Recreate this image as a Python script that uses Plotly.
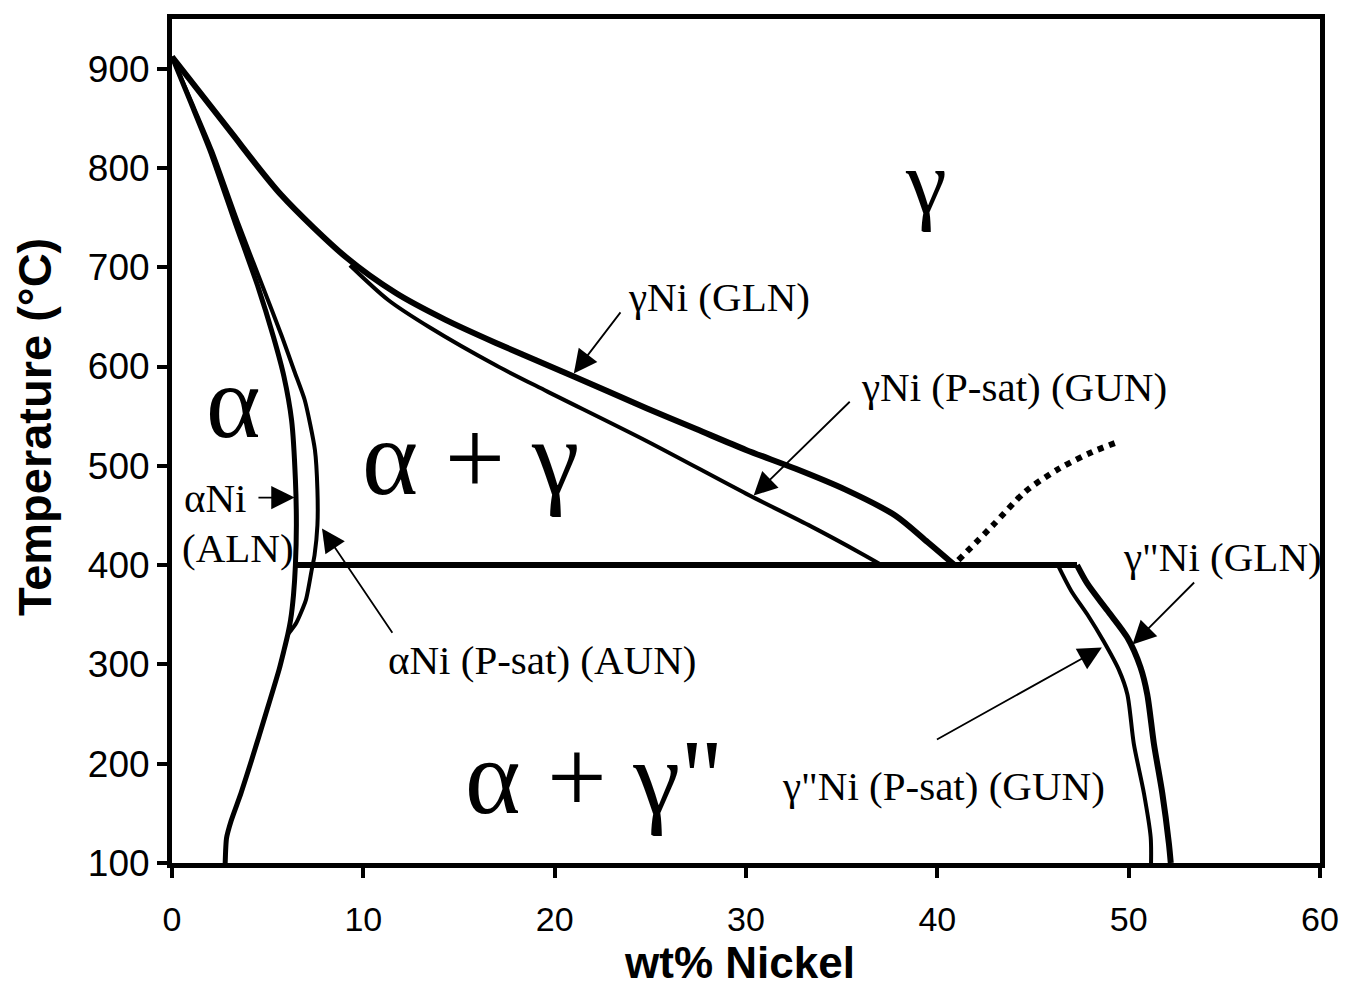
import plotly.graph_objects as go

# Phase boundaries of the Fe-Ni diagram (wt% Ni, temperature in °C)
gln_x = [0, 3.0, 5.7, 9.1, 11.7, 14.3, 16.9, 21.0, 24.8, 27.4, 30.0, 32.6, 35.2, 37.8, 39.5, 40.9]
gln_t = [912, 838, 773, 710, 674, 647, 624, 590, 558, 537, 516, 497, 476, 450, 423, 400]

gun_x = [9.3, 11.3, 13.5, 16.95, 19.6, 24.8, 30.0, 33.4, 36.0, 37.1]
gun_t = [702, 667, 639, 601, 575, 525, 472, 439, 412, 400]

aln_x = [0, 1.0, 2.0, 3.3, 4.5, 5.3, 5.85, 6.25, 6.45, 6.5, 6.45, 6.35, 6.2, 6.05, 5.85, 5.6,
         4.9, 4.15, 3.6, 3.1, 2.85, 2.78]
aln_t = [912, 865, 817, 745, 680, 630, 590, 546, 486, 440, 400, 370, 345, 330, 314, 295,
         250, 203, 170, 143, 125, 100]

aun_x = [0, 1.05, 2.1, 3.45, 4.75, 5.75, 6.4, 6.94, 7.47, 7.6, 7.6, 7.45, 7.3, 7.0, 6.5, 6.05]
aun_t = [912, 865, 817, 745, 680, 630, 595, 566, 516, 476, 440, 410, 395, 365, 342, 330]

eutectoid_x = [6.45, 47.3]
eutectoid_t = [400, 400]

gln2_x = [47.3, 47.85, 48.9, 49.93, 50.62, 50.97, 51.32, 51.76, 52.1, 52.2]
gln2_t = [400, 381, 354, 327, 297, 270, 220, 170, 120, 100]

gun2_x = [46.3, 47.0, 47.85, 48.7, 49.5, 49.93, 50.27, 50.8, 51.15, 51.17]
gun2_t = [400, 374, 350, 323, 294, 270, 220, 170, 126, 100]

dotted_x = [41.1, 42.9, 44.6, 46.35, 48.1, 49.3]
dotted_t = [405, 440, 474, 497, 514, 523]

x_ticks = [0, 10, 20, 30, 40, 50, 60]
y_ticks = [100, 200, 300, 400, 500, 600, 700, 800, 900]

THICK = 6
THIN = 4
SERIF = "Liberation Serif, Times New Roman, serif"
SANS = "Liberation Sans, Arial, sans-serif"

fig = go.Figure()

def boundary(x, t, width, shape="spline", dash="solid", smoothing=0.8):
    fig.add_trace(go.Scatter(
        x=x, y=t, mode="lines",
        line=dict(color="black", width=width, shape=shape, smoothing=smoothing, dash=dash),
        hoverinfo="skip", showlegend=False, cliponaxis=False,
    ))

boundary(gln_x, gln_t, THICK)
boundary(gun_x, gun_t, THIN)
boundary(aln_x, aln_t, THICK - 1, smoothing=0.6)
boundary(aun_x, aun_t, THIN, smoothing=0.6)
boundary(eutectoid_x, eutectoid_t, THICK, shape="linear")
boundary(gln2_x, gln2_t, THICK)
boundary(gun2_x, gun2_t, THIN)
boundary(dotted_x, dotted_t, 6, dash="dot")

# Phase-field labels
phase_labels = [
    ("γ", 39.4, 786, 92),
    ("α", 3.2, 565, 104),
    ("α + γ", 15.6, 508, 107),
    ('α + γ"', 22.05, 186, 106),
]
for text, x, y, size in phase_labels:
    fig.add_annotation(x=x, y=y, text=text, showarrow=False,
                       font=dict(family=SERIF, size=size, color="black"),
                       xanchor="center", yanchor="middle")

# Boundary names
names = [
    ("γNi (GLN)", 28.6, 670, "center"),
    ("γNi (P-sat) (GUN)", 44.0, 579, "center"),
    ("αNi", 0.5, 468, "left"),
    ("(ALN)", 0.4, 417, "left"),
    ("αNi (P-sat) (AUN)", 19.36, 304, "center"),
    ('γ"Ni (GLN)', 54.9, 408, "center"),
    ('γ"Ni (P-sat) (GUN)', 40.3, 177.5, "center"),
]
for text, x, y, anchor in names:
    fig.add_annotation(x=x, y=y, text=text, showarrow=False,
                       font=dict(family=SERIF, size=41, color="black"),
                       xanchor=anchor, yanchor="middle")

# Pointer arrows: (head x, head y, tail x, tail y)
arrows = [
    (21.0, 593, 23.5, 656),
    (30.4, 470, 35.5, 566),
    (6.41, 468, 4.44, 468),
    (7.84, 437, 11.57, 330.5),
    (50.2, 320, 53.5, 384),
    (48.6, 317, 39.9, 223.6),
]
for hx, hy, tx, ty in arrows:
    fig.add_annotation(x=hx, y=hy, ax=tx, ay=ty, axref="x", ayref="y",
                       text="", showarrow=True, arrowhead=2, arrowsize=2.6,
                       arrowwidth=1.8, arrowcolor="black", standoff=0)

# Axis titles (positions in paper units of the plotting area)
L, R, T, B = 172, 22, 19, 123
PW, PH = 1351 - L - R, 986 - T - B
fig.add_annotation(x=(744 - L) / PW, y=(986 - B - 962) / PH, xref="paper", yref="paper",
                   text="<b>wt% Nickel</b>", showarrow=False,
                   font=dict(family=SANS, size=44, color="black"),
                   xanchor="center", yanchor="middle")
fig.add_annotation(x=(33 - L) / PW, y=(986 - B - 427) / PH, xref="paper", yref="paper",
                   text="<b>Temperature (°C)</b>", showarrow=False, textangle=-90,
                   font=dict(family=SANS, size=47, color="black"),
                   xanchor="center", yanchor="middle")

axis_common = dict(
    showgrid=False, zeroline=False, showline=True, linecolor="black", linewidth=5,
    mirror=True, ticks="outside", ticklen=10, tickwidth=4, tickcolor="black",
)
fig.update_xaxes(range=[0, 60], tickvals=x_ticks, ticktext=[str(v) for v in x_ticks],
                 tickfont=dict(family=SANS, size=34, color="black"),
                 ticklabelstandoff=12, **axis_common)
fig.update_yaxes(range=[100, 950], tickvals=y_ticks, ticktext=[str(v) for v in y_ticks],
                 tickfont=dict(family=SANS, size=37, color="black"),
                 ticklabelstandoff=0, **axis_common)

fig.update_layout(
    width=1351, height=986,
    margin=dict(l=L, r=R, t=T, b=B),
    paper_bgcolor="white", plot_bgcolor="white",
)

fig.write_html("out.html")
